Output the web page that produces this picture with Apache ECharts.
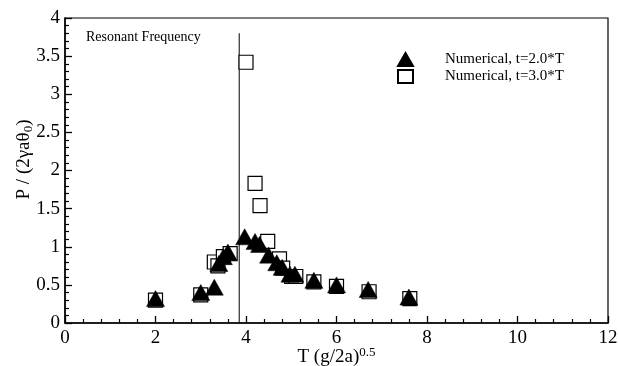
<!DOCTYPE html>
<html>
<head>
<meta charset="utf-8">
<script src="https://cdn.jsdelivr.net/npm/echarts@6/dist/echarts.min.js"></script>
<style>
    html, body { margin: 0; padding: 0; background: #fff; }
    #chart { width: 618px; height: 366px; }
</style>
</head>
<body>
<div id="chart"></div>
<script>
// t = 2.0*T (filled triangles)
var triX = [2.0, 3.0, 3.3, 3.4, 3.5, 3.6, 3.97, 4.2, 4.3, 4.5, 4.68, 4.8, 4.97, 5.08, 5.5, 6.0, 6.7, 7.6];
var triY = [0.32, 0.40, 0.47, 0.78, 0.87, 0.93, 1.13, 1.07, 1.03, 0.89, 0.79, 0.73, 0.64, 0.64, 0.56, 0.50, 0.44, 0.34];
// t = 3.0*T (open squares)
var sqX = [2.0, 3.0, 3.3, 3.38, 3.5, 3.65, 4.0, 4.2, 4.31, 4.48, 4.74, 4.81, 5.01, 5.1, 5.5, 6.0, 6.72, 7.62];
var sqY = [0.30, 0.37, 0.80, 0.75, 0.87, 0.91, 3.42, 1.83, 1.54, 1.07, 0.84, 0.72, 0.61, 0.61, 0.54, 0.48, 0.41, 0.32];
var seriesNames = ['Numerical, t=2.0*T', 'Numerical, t=3.0*T'];
var resonantX = 3.85;
var resonantTop = 3.8;

function pairs(xs, ys) {
    var out = [];
    for (var i = 0; i < xs.length; i++) out.push([xs[i], ys[i]]);
    return out;
}

var font = 'Liberation Serif';
var myChart = echarts.init(document.getElementById('chart'));
var option = {
    animation: false,
    grid: {
        left: 65, right: 10, top: 18, bottom: 43,
        containLabel: false,
        outerBoundsMode: 'none',
        show: true,
        borderColor: '#000',
        borderWidth: 1.2
    },
    legend: {
        orient: 'vertical',
        left: 392, top: 47,
        itemGap: 2,
        itemWidth: 15, itemHeight: 13,
        data: [
            { name: seriesNames[0], icon: 'triangle' },
            { name: seriesNames[1], icon: 'rect' }
        ],
        textStyle: { fontFamily: font, fontSize: 15, color: '#000', padding: [0, 0, 0, 27] }
    },
    graphic: [{
        type: 'text', left: 86, top: 30,
        style: { text: 'Resonant Frequency', font: '14px "Liberation Serif"', fill: '#000' }
    }],
    xAxis: {
        type: 'value', min: 0, max: 12, interval: 2,
        name: '{n|T (g/2a)}{s|0.5}',
        nameLocation: 'middle', nameGap: 23,
        nameMoveOverlap: false,
        nameTextStyle: {
            rich: {
                n: { fontFamily: font, fontSize: 19, color: '#000' },
                s: { fontFamily: font, fontSize: 13, color: '#000', verticalAlign: 'bottom', padding: [0, 0, 10, 0] }
            }
        },
        axisLine: { lineStyle: { color: '#000', width: 1.5 } },
        axisTick: { inside: true, length: 7, lineStyle: { color: '#000', width: 1.3 } },
        minorTick: { show: true, splitNumber: 5, length: 4, lineStyle: { color: '#000', width: 1.2 } },
        axisLabel: { fontFamily: font, fontSize: 19, color: '#000', margin: 6 },
        splitLine: { show: false }
    },
    yAxis: {
        type: 'value', min: 0, max: 4, interval: 0.5,
        name: '{n|P / (2γaθ}{s|0}{n|)}',
        nameLocation: 'middle', nameGap: 30, nameRotate: 90,
        nameMoveOverlap: false,
        nameTextStyle: {
            padding: [0, 0, 0, 22],
            rich: {
                n: { fontFamily: font, fontSize: 19, color: '#000' },
                s: { fontFamily: font, fontSize: 13, color: '#000', verticalAlign: 'bottom', padding: [8, 0, 0, 0] }
            }
        },
        axisLine: { lineStyle: { color: '#000', width: 1.5 } },
        axisTick: { inside: true, length: 7, lineStyle: { color: '#000', width: 1.3 } },
        minorTick: { show: true, splitNumber: 5, length: 4, lineStyle: { color: '#000', width: 1.2 } },
        axisLabel: { fontFamily: font, fontSize: 19, color: '#000', margin: 5 },
        splitLine: { show: false }
    },
    series: [
        {
            name: seriesNames[0],
            type: 'scatter',
            symbol: 'triangle',
            symbolSize: [18, 16],
            z: 4,
            itemStyle: { color: '#000', borderColor: '#000', borderWidth: 0.5, opacity: 1 },
            data: pairs(triX, triY)
        },
        {
            name: seriesNames[1],
            type: 'scatter',
            symbol: 'rect',
            symbolSize: 14,
            z: 3,
            itemStyle: { color: '#fff', borderColor: '#000', borderWidth: 1.2, opacity: 1 },
            data: pairs(sqX, sqY)
        },
        {
            // 共振频率竖线
            type: 'line',
            symbol: 'none',
            silent: true,
            z: 2,
            lineStyle: { color: '#000', width: 1 },
            data: [[resonantX, 0], [resonantX, resonantTop]]
        }
    ]
};
myChart.setOption(option, true);
</script>
</body>
</html>
